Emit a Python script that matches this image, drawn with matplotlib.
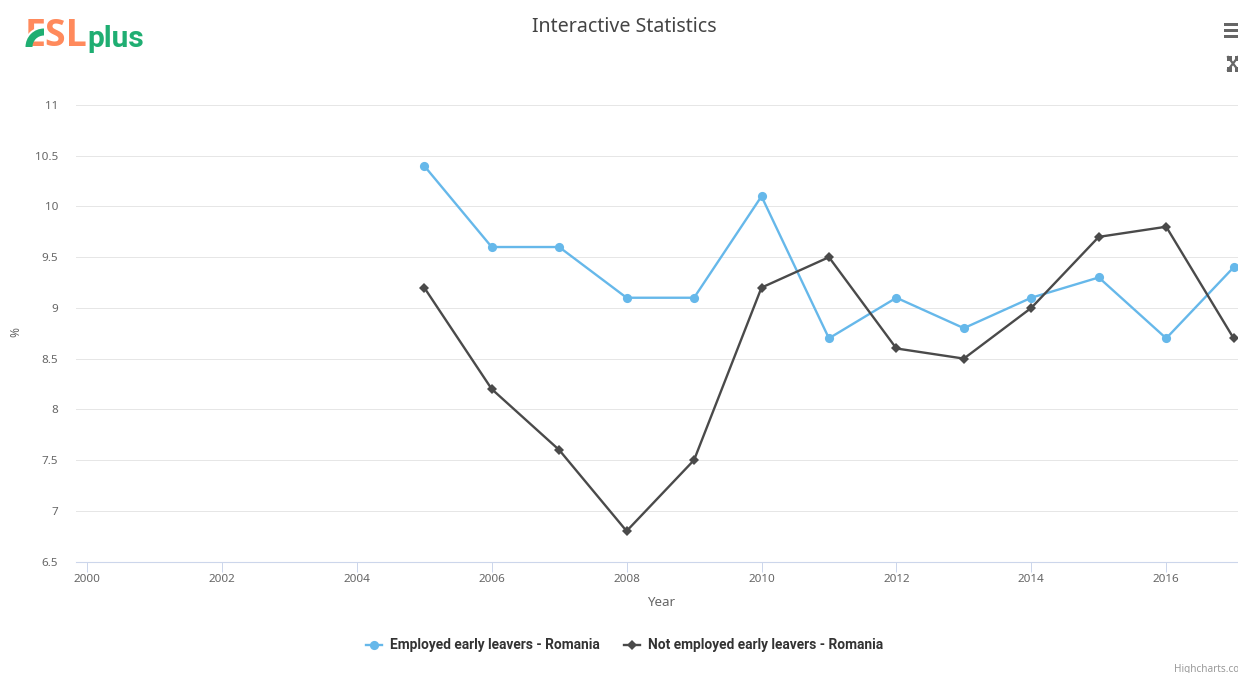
import matplotlib
matplotlib.use("Agg")
import matplotlib.pyplot as plt
from matplotlib.lines import Line2D
from matplotlib.patches import Rectangle, Wedge

years = [2005, 2006, 2007, 2008, 2009, 2010, 2011, 2012, 2013, 2014, 2015, 2016, 2017]
employed = [10.4, 9.6, 9.6, 9.1, 9.1, 10.1, 8.7, 9.1, 8.8, 9.1, 9.3, 8.7, 9.4]
not_employed = [9.2, 8.2, 7.6, 6.8, 7.5, 9.2, 9.5, 8.6, 8.5, 9.0, 9.7, 9.8, 8.7]
x_ticks = list(range(2000, 2018, 2))
y_ticks = [6.5, 7, 7.5, 8, 8.5, 9, 9.5, 10, 10.5, 11]
y_labels = ["6.5", "7", "7.5", "8", "8.5", "9", "9.5", "10", "10.5", "11"]

W, H = 1238, 673
BLUE = "#66b8ea"
DARK = "#4a4a4a"
LABEL = "#666666"
AXIS = "#ccd6eb"
GRID = "#e6e6e6"
ORANGE = "#ff8a5c"
GREEN = "#1fae72"

plt.rcParams["font.family"] = ["Noto Sans", "DejaVu Sans"]

fig = plt.figure(figsize=(W / 100, H / 100), dpi=100, facecolor="white")

# Plot area, positioned in pixels
left, right, top, bottom = 76, 1238, 105, 561.5
ax = fig.add_axes([left / W, 1 - bottom / H, (right - left) / W, (bottom - top) / H])
px_per_year = 67.45
ax.set_xlim(2000 + (left - 87) / px_per_year, 2000 + (right - 87) / px_per_year)
ax.set_ylim(6.5, 11)

ax.plot(years, employed, color=BLUE, lw=1.7, marker="o", ms=6.6, mew=0, clip_on=False, zorder=3)
ax.plot(years, not_employed, color=DARK, lw=1.7, marker="D", ms=4.6, mew=0, clip_on=False, zorder=4)

ax.set_xticks(x_ticks, [str(t) for t in x_ticks])
ax.set_yticks(y_ticks, y_labels)
ax.tick_params(axis="x", length=7.4, width=0.72, color=AXIS, labelsize=8.4, labelcolor=LABEL, pad=1.5)
ax.tick_params(axis="y", length=0, labelsize=8.4, labelcolor=LABEL, pad=13)
ax.grid(axis="y", color=GRID, lw=0.72)
ax.set_axisbelow(True)
for side in ("top", "right", "left"):
    ax.spines[side].set_visible(False)
ax.spines["bottom"].set_color(AXIS)
ax.spines["bottom"].set_linewidth(0.8)

# Overlay in pixel coordinates for title, logo, toolbar and legend
ov = fig.add_axes([0, 0, 1, 1], facecolor="none")
ov.set_xlim(0, W)
ov.set_ylim(H, 0)
ov.axis("off")

ov.text(624.5, 27.5, "Interactive Statistics", ha="center", va="center", fontsize=14.1, color="#444444")
ov.text(661, 603, "Year", ha="center", va="center", fontsize=9.6, color=LABEL)
ov.text(16, 332, "%", ha="center", va="center", rotation=90, fontsize=8.6, color=LABEL)
ov.text(1174, 669.5, "Highcharts.co", ha="left", va="center", fontsize=7.2, color="#999999")

# Logo
ov.text(25, 35.5, "ESL", ha="left", va="center", fontsize=27, fontweight="bold",
        family=["Open Sans", "DejaVu Sans"], color=ORANGE)
ov.text(87, 39, "plus", ha="left", va="center", fontsize=21.5, fontweight="bold",
        family=["Roboto", "DejaVu Sans"], color=GREEN)
ov.add_patch(Wedge((44, 47), 20.5, 180, 272, width=8.5, facecolor="white", edgecolor="none", zorder=5))
ov.add_patch(Wedge((44, 47), 18.5, 180, 270, width=7, facecolor=GREEN, edgecolor="none", zorder=6))

# Toolbar icons
for y in (23, 29, 35):
    ov.add_patch(Rectangle((1224, y), 14, 3.3, facecolor="#666666", edgecolor="none"))
for xs, ys in (([1228, 1238], [57, 70]), ([1228, 1238], [70, 57])):
    ov.add_line(Line2D(xs, ys, color="#666666", lw=1.6))
for x, y in ((1229, 58), (1229, 69), (1237, 58), (1237, 69)):
    ov.add_patch(Rectangle((x - 2.5, y - 2.5), 5, 5, facecolor="#666666", edgecolor="none"))

# Legend
ov.add_line(Line2D([366, 382], [645, 645], color=BLUE, lw=1.7))
ov.plot([374], [645], marker="o", ms=6.6, mew=0, color=BLUE)
ov.text(390, 645, "Employed early leavers - Romania", ha="left", va="center",
        fontsize=9.95, fontweight="bold", family=["Roboto", "DejaVu Sans"], color="#333333")
ov.add_line(Line2D([624, 640], [645, 645], color=DARK, lw=1.7))
ov.plot([632], [645], marker="D", ms=4.6, mew=0, color=DARK)
ov.text(648, 645, "Not employed early leavers - Romania", ha="left", va="center",
        fontsize=9.95, fontweight="bold", family=["Roboto", "DejaVu Sans"], color="#333333")

fig.savefig("out.png", dpi=100, facecolor="white")
